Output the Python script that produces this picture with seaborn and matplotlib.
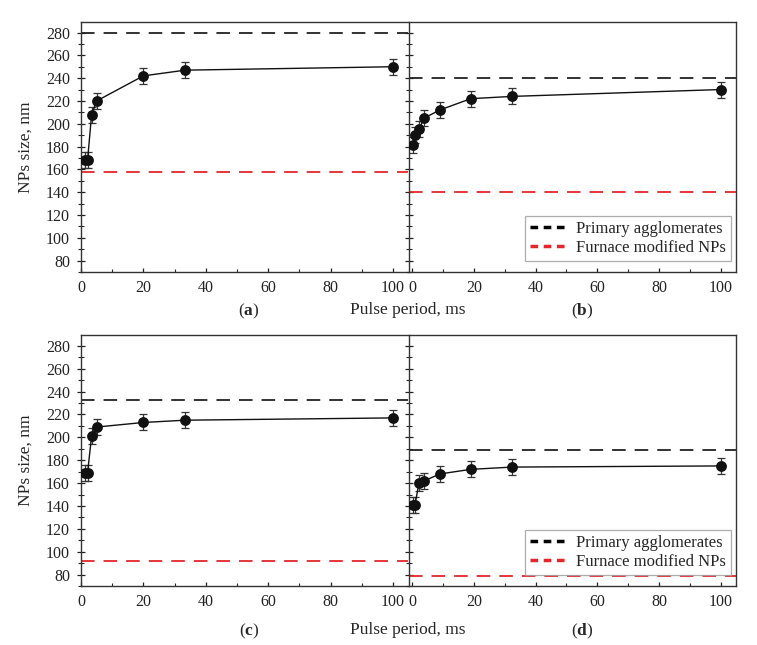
import seaborn as sns
import matplotlib.pyplot as plt
from matplotlib.lines import Line2D
from matplotlib.ticker import MultipleLocator

sns.set_theme(style="ticks")
plt.rcParams['font.family'] = ['Liberation Serif', 'DejaVu Serif']
plt.rcParams['mathtext.fontset'] = 'custom'
plt.rcParams['mathtext.rm'] = 'Liberation Serif'
plt.rcParams['mathtext.bf'] = 'Liberation Serif:bold'

# pulse period (ms) and NPs size (nm)
x_a = [1.4, 2.1, 3.4, 5.0, 20.0, 33.4, 100.0]
y_a = [168, 168, 208, 220, 242, 247, 250]
e_a = [7, 7, 7, 7, 7, 7, 7]

x_b = [0.4, 0.9, 2.2, 3.9, 8.9, 19.0, 32.5, 100.0]
y_b = [181, 190, 195, 205, 212, 222, 224, 230]
e_b = [7, 7, 7, 7, 7, 7, 7, 7]

x_c = [1.4, 2.1, 3.4, 5.0, 20.0, 33.4, 100.0]
y_c = [169, 169, 201, 209, 213, 215, 217]
e_c = [7, 7, 7, 7, 7, 7, 7]

x_d = [0.4, 0.9, 2.2, 3.9, 9.0, 19.0, 32.5, 100.0]
y_d = [141, 141, 160, 162, 168, 172, 174, 175]
e_d = [7, 7, 7, 7, 7, 7, 7, 7]

primary = {'a': 280, 'b': 240.5, 'c': 233, 'd': 189}
furnace = {'a': 157.5, 'b': 140.5, 'c': 92, 'd': 79}

RED = '#e3262b'
SPINE = '#333333'

fig = plt.figure(figsize=(7.57, 6.45), dpi=100)

W, H = 757, 645
def box(l, r, t, b):
    return [l / W, 1 - b / H, (r - l) / W, (b - t) / H]

panels = {
    'a': (box(81, 408.5, 21.7, 272), x_a, y_a, e_a, (0, 105)),
    'b': (box(408.5, 736, 21.7, 272), x_b, y_b, e_b, (-1.2, 105)),
    'c': (box(81, 408.5, 335, 586), x_c, y_c, e_c, (0, 105)),
    'd': (box(408.5, 736, 335, 586), x_d, y_d, e_d, (-1.2, 105)),
}

axes = {}
for key, (rect, xs, ys, es, xlim) in panels.items():
    ax = fig.add_axes(rect)
    axes[key] = ax
    ax.axhline(primary[key], color='#222222', lw=1.3, ls=(0, (7.5, 5)), zorder=1)
    ax.axhline(furnace[key], color=RED, lw=1.3, ls=(0, (7.5, 5)), zorder=1)
    ax.errorbar(xs, ys, yerr=es, fmt='none', ecolor='#333333', elinewidth=0.9,
                capsize=3, capthick=0.9, zorder=2)
    sns.lineplot(x=xs, y=ys, ax=ax, color='#111111', linewidth=1.0, marker='o',
                 markersize=7.8, markeredgewidth=0, errorbar=None, zorder=3)
    ax.set_xlim(*xlim)
    ax.set_ylim(70, 289.5)
    ax.xaxis.set_major_locator(MultipleLocator(20))
    ax.xaxis.set_minor_locator(MultipleLocator(10))
    ax.yaxis.set_major_locator(MultipleLocator(20))
    ax.yaxis.set_minor_locator(MultipleLocator(10))
    ax.tick_params(axis='x', which='major', direction='in', length=3, width=0.9,
                   labelsize=11.5, pad=6, colors='#222222')
    ax.tick_params(axis='x', which='minor', direction='in', length=2, width=0.8)
    ax.tick_params(axis='y', which='major', direction='inout', length=6, width=0.9,
                   labelsize=11.5, pad=5, colors='#222222')
    ax.tick_params(axis='y', which='minor', direction='inout', length=4, width=0.8)
    for s in ax.spines.values():
        s.set_color(SPINE)
        s.set_linewidth(1.0)
    if key in ('a', 'c'):
        ax.spines['right'].set_visible(False)
        ax.set_ylabel('NPs size, nm', fontsize=12.5)
        ax.yaxis.set_label_coords(-0.145, 0.5)
    else:
        ax.tick_params(axis='y', labelleft=False)

handles = [Line2D([0], [0], color='black', lw=2.5, ls=(0, (2.2, 1.6))),
           Line2D([0], [0], color=RED, lw=2.5, ls=(0, (2.2, 1.6)))]
labels = ['Primary agglomerates', 'Furnace modified NPs']
for key in ('b', 'd'):
    leg = axes[key].legend(handles, labels, loc='lower right',
                           bbox_to_anchor=(0.985, 0.045), fontsize=12,
                           frameon=True, fancybox=False, handlelength=2.2,
                           handletextpad=0.55, borderpad=0.3, labelspacing=0.15,
                           borderaxespad=0)
    leg.get_frame().set_edgecolor('#999999')
    leg.get_frame().set_linewidth(0.9)

for y_px, (l1, l2) in ((311, ('a', 'b')), (631, ('c', 'd'))):
    fig.text(249 / W, 1 - y_px / H, r'($\mathbf{%s}$)' % l1, ha='center', va='center', fontsize=12.5)
    fig.text(582 / W, 1 - y_px / H, r'($\mathbf{%s}$)' % l2, ha='center', va='center', fontsize=12.5)
    fig.text(408 / W, 1 - (y_px - 1) / H, 'Pulse period, ms', ha='center', va='center', fontsize=12.5)

plt.savefig('out.png', dpi=100, facecolor='w')
